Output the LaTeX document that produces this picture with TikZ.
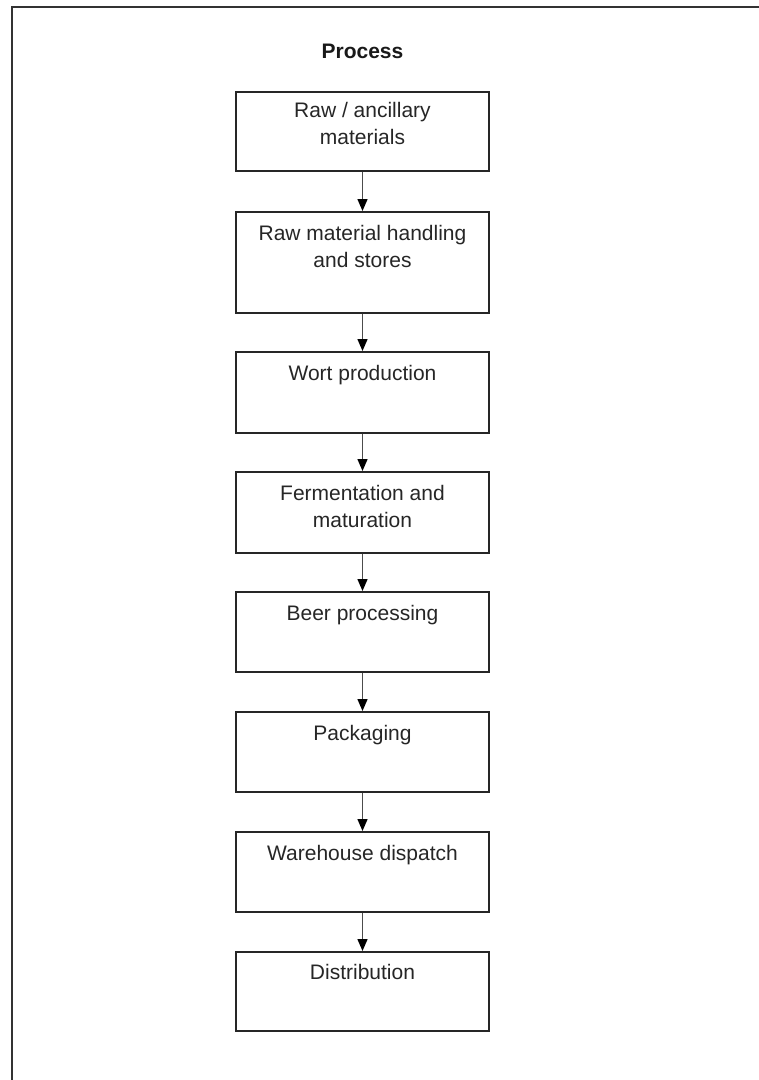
\documentclass[tikz,border=0pt]{standalone}
\usepackage{fontspec}
\setmainfont{Liberation Sans}
\usetikzlibrary{arrows.meta}
\newcommand\boxlines[1]{\parbox[t]{250pt}{\centering\setlength{\baselineskip}{27pt}#1\par}}
\begin{document}
\begin{tikzpicture}[x=1pt,y=-1pt,
  stepbox/.style={draw=black!85,line width=1.6pt,minimum width=253pt,anchor=north,inner sep=0pt},
  boxlabel/.style={anchor=base,inner sep=0pt,font=\fontsize{21}{27}\selectfont,text=black!85},
  flow/.style={draw=black!70,line width=1.4pt,-{Triangle[width=10pt,length=12pt,fill=black,color=black]}},
  frame/.style={draw=black!80,line width=2pt}]
\useasboundingbox (0,0) rectangle (759,1080);
\draw[frame] (759,7) -- (12,7) -- (12,1080);

\node[anchor=base,inner sep=0pt,font=\fontsize{21}{25}\selectfont\bfseries,text=black!90] (title) at (362.5,58) {Process};

\node[stepbox,minimum height=79pt]  (b1) at (362.5,91) {};
\node[stepbox,minimum height=101pt] (b2) at (362.5,211) {};
\node[stepbox,minimum height=81pt]  (b3) at (362.5,351) {};
\node[stepbox,minimum height=81pt]  (b4) at (362.5,471) {};
\node[stepbox,minimum height=80pt]  (b5) at (362.5,591) {};
\node[stepbox,minimum height=80pt]  (b6) at (362.5,711) {};
\node[stepbox,minimum height=80pt]  (b7) at (362.5,831) {};
\node[stepbox,minimum height=79pt]  (b8) at (362.5,951) {};

\node[boxlabel] (t1) at (362.5,117) {\boxlines{Raw / ancillary\\materials}};
\node[boxlabel] (t2) at (362.5,240) {\boxlines{Raw material handling\\and stores}};
\node[boxlabel] (t3) at (362.5,380) {Wort production};
\node[boxlabel] (t4) at (362.5,500) {\boxlines{Fermentation and\\maturation}};
\node[boxlabel] (t5) at (362.5,620) {Beer processing};
\node[boxlabel] (t6) at (362.5,740) {Packaging};
\node[boxlabel] (t7) at (362.5,860) {Warehouse dispatch};
\node[boxlabel] (t8) at (362.5,979) {Distribution};

\draw[flow] (b1.south) -- (b2.north);
\draw[flow] (b2.south) -- (b3.north);
\draw[flow] (b3.south) -- (b4.north);
\draw[flow] (b4.south) -- (b5.north);
\draw[flow] (b5.south) -- (b6.north);
\draw[flow] (b6.south) -- (b7.north);
\draw[flow] (b7.south) -- (b8.north);
\end{tikzpicture}
\end{document}
